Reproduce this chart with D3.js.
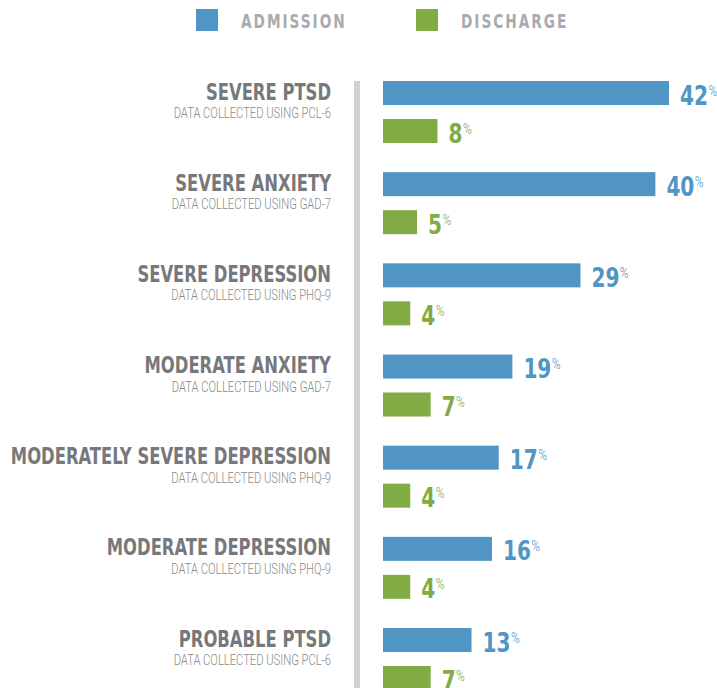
<!DOCTYPE html>
<html>
<head>
<meta charset="utf-8">
<script src="https://cdn.jsdelivr.net/npm/d3@7"></script>
<style>
	body { margin: 0; background: #fff; }
	svg { display: block; }
	.tk-title { font-family: "DejaVu Sans Condensed", "DejaVu Sans", sans-serif; font-weight: bold; }
	.tk-sub { font-family: "Roboto", "DejaVu Sans Condensed", sans-serif; font-weight: 300; }
</style>
</head>
<body>
<div id="chart"></div>
<script>
'use strict';

// chart data
var categories = [
	'SEVERE PTSD',
	'SEVERE ANXIETY',
	'SEVERE DEPRESSION',
	'MODERATE ANXIETY',
	'MODERATELY SEVERE DEPRESSION',
	'MODERATE DEPRESSION',
	'PROBABLE PTSD'
];
var instruments = ['PCL-6', 'GAD-7', 'PHQ-9', 'GAD-7', 'PHQ-9', 'PHQ-9', 'PCL-6'];
var admission = [42, 40, 29, 19, 17, 16, 13];
var discharge = [8, 5, 4, 7, 4, 4, 7];
var seriesNames = ['ADMISSION', 'DISCHARGE'];

var W = 717, H = 688,
		color = { ADMISSION: '#5095c4', DISCHARGE: '#80ab45' },
		x0 = 383,
		rowTop = 81,
		step = 91.17,
		narrow = 0.81,    // horizontal squeeze to mimic a condensed face
		numNarrow = 0.86,
		subNarrow = 0.8;

var rows = categories.map(function (c, i) {
	return { name: c, sub: 'DATA COLLECTED USING ' + instruments[i], ADMISSION: admission[i], DISCHARGE: discharge[i] };
});

var svg = d3.select('#chart').append('svg')
	.attr('width', W)
	.attr('height', H);

var x = d3.scaleLinear().domain([0, 42]).range([x0, x0 + 286]);
var y = d3.scaleBand().domain(categories).range([rowTop, rowTop + step * categories.length]);
var ySub = d3.scaleBand().domain(seriesNames).range([0, 62]).paddingInner(0.368);

// legend
var legend = svg.append('g').attr('class', 'tk-legend');
var lx = [196, 416];
seriesNames.forEach(function (s, i) {
	legend.append('rect')
		.attr('x', lx[i]).attr('y', 9)
		.attr('width', 22).attr('height', 22)
		.style('fill', color[s]);
	legend.append('g')
		.attr('transform', 'translate(' + (lx[i] + 45) + ',27.5) scale(0.8,1)')
		.append('text')
		.attr('class', 'tk-title')
		.style('font-size', '19px')
		.style('letter-spacing', '2.5px')
		.style('fill', '#a9aaad')
		.text(s);
});

// divider
svg.append('rect')
	.attr('x', 354).attr('y', rowTop)
	.attr('width', 6).attr('height', H - rowTop)
	.style('fill', '#d0d0d0');

var g = svg.selectAll('.tk-row')
	.data(rows)
	.enter().append('g')
	.attr('class', 'tk-row')
	.attr('transform', function (d) { return 'translate(0,' + y(d.name) + ')'; });

g.append('g')
	.attr('transform', 'translate(331,18.5) scale(' + narrow + ',1)')
	.append('text')
	.attr('class', 'tk-title')
	.attr('text-anchor', 'end')
	.style('font-size', '22.5px')
	.style('fill', '#77787b')
	.text(function (d) { return d.name; });

g.append('g')
	.attr('transform', 'translate(331,37) scale(' + subNarrow + ',1)')
	.append('text')
	.attr('class', 'tk-sub')
	.attr('text-anchor', 'end')
	.style('font-size', '14px')
	.style('fill', '#88898c')
	.text(function (d) { return d.sub; });

seriesNames.forEach(function (s) {
	g.append('rect')
		.attr('x', x(0))
		.attr('y', ySub(s))
		.attr('width', function (d) { return x(d[s]) - x(0); })
		.attr('height', ySub.bandwidth())
		.style('fill', color[s]);

	var t = g.append('g')
		.attr('transform', function (d) {
			return 'translate(' + (x(d[s]) + 11) + ',' + (ySub(s) + ySub.bandwidth() - 0.5) + ') scale(' + numNarrow + ',1)';
		})
		.append('text')
		.attr('class', 'tk-title')
		.style('fill', color[s]);
	t.append('tspan')
		.style('font-size', '26px')
		.text(function (d) { return d[s]; });
	t.append('tspan')
		.attr('class', 'tk-sub')
		.attr('dy', -9)
		.attr('dx', 0.5)
		.style('font-size', '14px')
		.style('font-weight', 'normal')
		.style('opacity', 0.75)
		.text('%');
});
</script>
</body>
</html>
